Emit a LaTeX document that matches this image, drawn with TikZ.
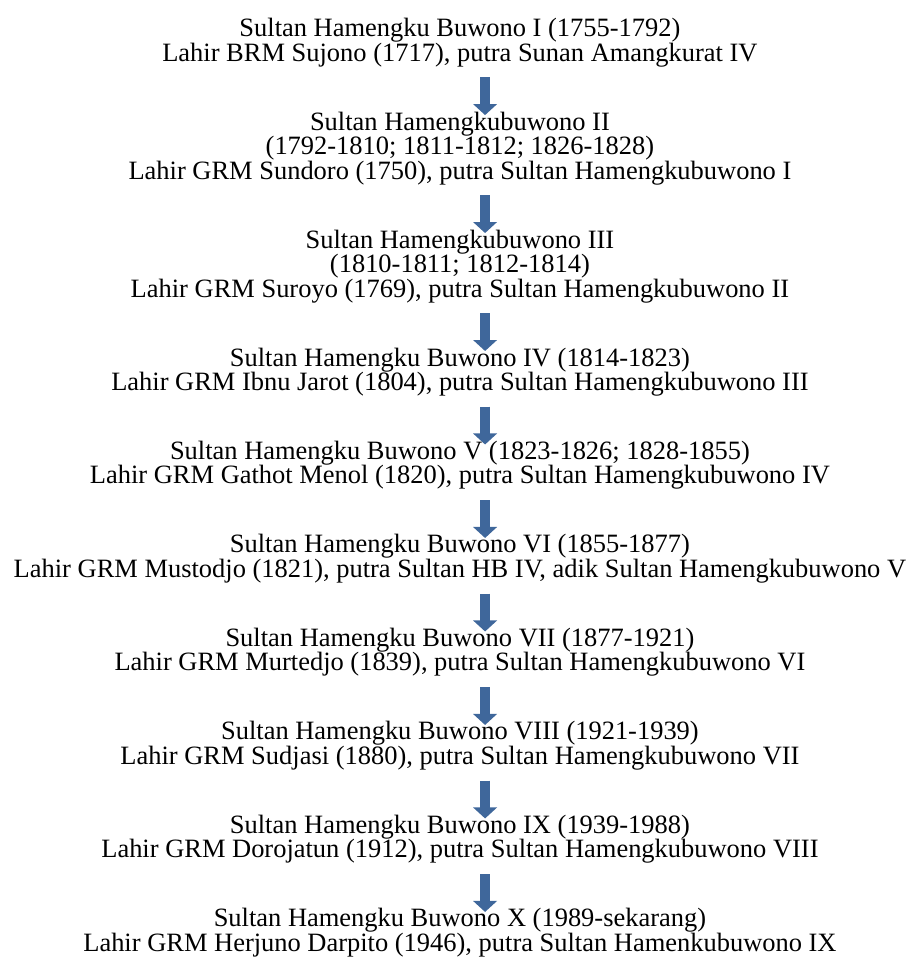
\documentclass[tikz,border=0pt]{standalone}
\usepackage{fontspec}
\setmainfont{Liberation Serif}
\usepackage{xcolor}
\definecolor{arrowblue}{HTML}{3F679B}
\usepackage{tikz}
\usetikzlibrary{arrows.meta,calc}
\tikzset{
  txt/.style  ={font=\fontsize{12}{14}\selectfont,inner sep=0pt,anchor=base},
  succ/.style ={draw=arrowblue,line width=4.5pt,
                -{Triangle[width=10.6pt,length=5pt,fill=arrowblue]}},
}

\begin{document}
\begin{tikzpicture}[x=1pt,y=1pt]
\useasboundingbox (0,0) rectangle (414.5,-436.3);
% HB I
\node[txt] (s1) at (208.6,-16.6) {Sultan Hamengku Buwono I (1755-1792)};
\node[txt] (l1) at (208.6,-27.7) {Lahir BRM Sujono (1717), putra Sunan Amangkurat IV};
% HB II
\node[txt] (s2) at (208.6,-59.0) {Sultan Hamengkubuwono II};
\node[txt] (r2) at (208.6,-70.1) {(1792-1810; 1811-1812; 1826-1828)};
\node[txt] (l2) at (208.6,-81.2) {Lahir GRM Sundoro (1750), putra Sultan Hamengkubuwono I};
% HB III
\node[txt] (s3) at (208.6,-112.5) {Sultan Hamengkubuwono III};
\node[txt] (r3) at (208.6,-123.6) {(1810-1811; 1812-1814)};
\node[txt] (l3) at (208.6,-134.7) {Lahir GRM Suroyo (1769), putra Sultan Hamengkubuwono II};
% HB IV
\node[txt] (s4) at (208.6,-166.0) {Sultan Hamengku Buwono IV (1814-1823)};
\node[txt] (l4) at (208.6,-177.1) {Lahir GRM Ibnu Jarot (1804), putra Sultan Hamengkubuwono III};
% HB V
\node[txt] (s5) at (208.6,-208.4) {Sultan Hamengku Buwono V (1823-1826; 1828-1855)};
\node[txt] (l5) at (208.6,-219.5) {Lahir GRM Gathot Menol (1820), putra Sultan Hamengkubuwono IV};
% HB VI
\node[txt] (s6) at (208.6,-250.8) {Sultan Hamengku Buwono VI (1855-1877)};
\node[txt] (l6) at (208.6,-261.9) {Lahir GRM Mustodjo (1821), putra Sultan HB IV, adik Sultan Hamengkubuwono V};
% HB VII
\node[txt] (s7) at (208.6,-293.2) {Sultan Hamengku Buwono VII (1877-1921)};
\node[txt] (l7) at (208.6,-304.3) {Lahir GRM Murtedjo (1839), putra Sultan Hamengkubuwono VI};
% HB VIII
\node[txt] (s8) at (208.6,-335.6) {Sultan Hamengku Buwono VIII (1921-1939)};
\node[txt] (l8) at (208.6,-346.7) {Lahir GRM Sudjasi (1880), putra Sultan Hamengkubuwono VII};
% HB IX
\node[txt] (s9) at (208.6,-378.0) {Sultan Hamengku Buwono IX (1939-1988)};
\node[txt] (l9) at (208.6,-389.1) {Lahir GRM Dorojatun (1912), putra Sultan Hamengkubuwono VIII};
% HB X
\node[txt] (s10) at (208.6,-420.4) {Sultan Hamengku Buwono X (1989-sekarang)};
\node[txt] (l10) at (208.6,-431.5) {Lahir GRM Herjuno Darpito (1946), putra Sultan Hamenkubuwono IX};
% succession arrows
\foreach \a/\b in {l1/s2,l2/s3,l3/s4,l4/s5,l5/s6,l6/s7,l7/s8,l8/s9,l9/s10}
  \draw[succ] ($(\a.base)+(11.4,-7.3)$) -- ($(\b.base)+(11.4,6.8)$);
\end{tikzpicture}
\end{document}
